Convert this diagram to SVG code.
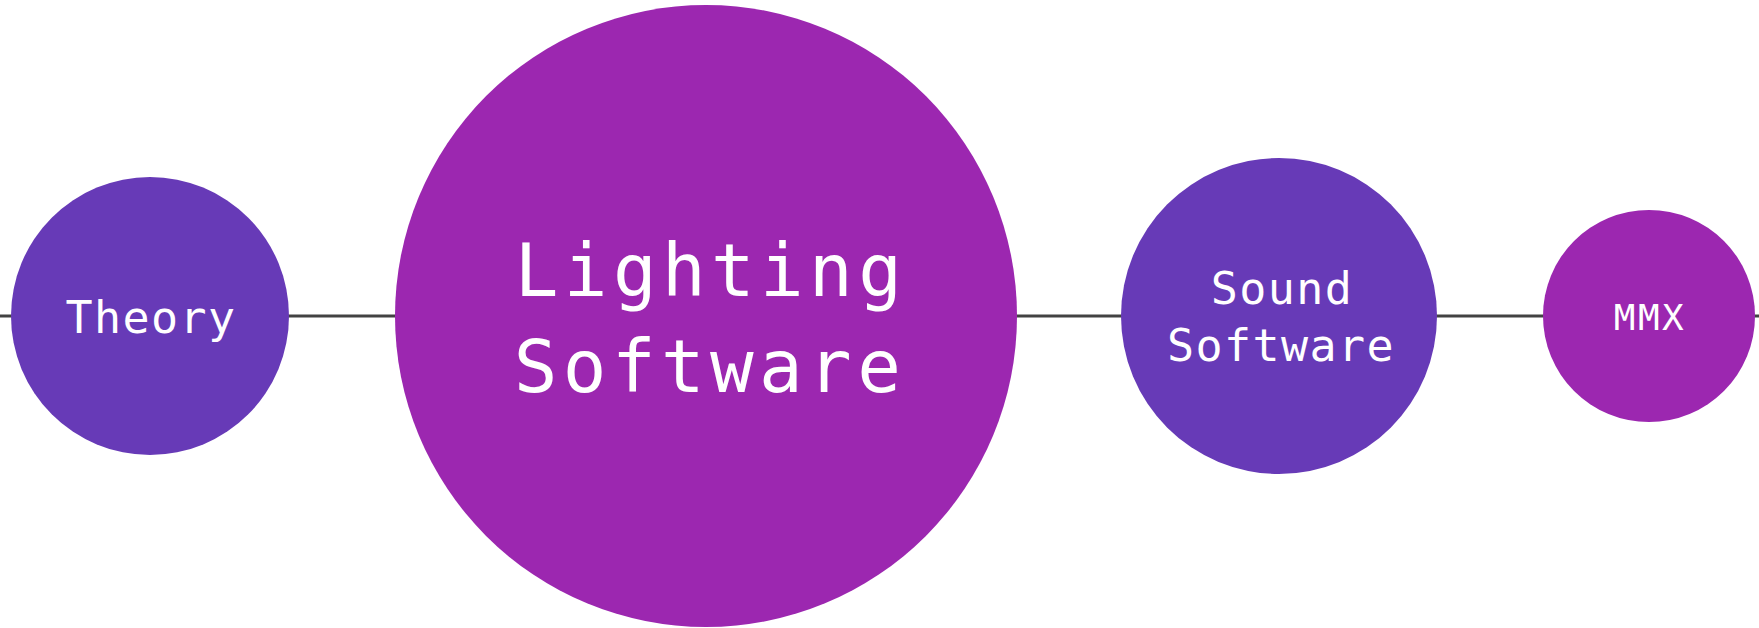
<svg xmlns="http://www.w3.org/2000/svg" width="1759" height="628" viewBox="0 0 1759 628">
  <style>
    .deep { fill: #673AB7; }
    .purple { fill: #9C27B0; }
    .label { fill: #ffffff; font-family: "DejaVu Sans Mono", "Liberation Mono", monospace; text-anchor: middle; }
    .sm { font-size: 45px; letter-spacing: 1.4px; }
    .lg { font-size: 72.5px; letter-spacing: 5.4px; }
    .xs { font-size: 36px; letter-spacing: 2.5px; }
    .rail { stroke: #424242; stroke-width: 3; fill: none; }
  </style>
  <rect width="1759" height="628" fill="#ffffff"/>

  <!-- timeline rail running behind every node -->
  <g id="connectors">
    <line class="rail" x1="0" y1="316" x2="1759" y2="316"/>
  </g>

  <g id="theory">
    <circle class="deep" cx="150" cy="316" r="139"/>
    <text class="label sm" x="151" y="333">Theory</text>
  </g>

  <g id="lighting-software">
    <circle class="purple" cx="706" cy="316" r="311"/>
    <text class="label lg" x="711" y="296">Lighting</text>
    <text class="label lg" x="710" y="392">Software</text>
  </g>

  <g id="sound-software">
    <circle class="deep" cx="1279" cy="316" r="158"/>
    <text class="label sm" x="1282" y="304">Sound</text>
    <text class="label sm" x="1281" y="361">Software</text>
  </g>

  <g id="mmx">
    <circle class="purple" cx="1649" cy="316" r="106"/>
    <text class="label xs" x="1650" y="330">MMX</text>
  </g>
</svg>
